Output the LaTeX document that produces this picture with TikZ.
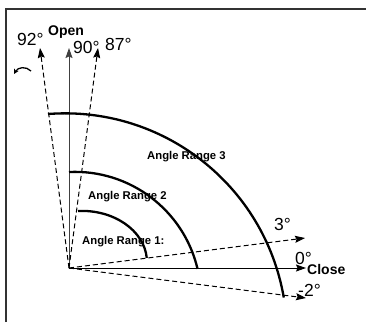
\documentclass[tikz,border=0pt]{standalone}
\usepackage{fontspec}
\setmainfont{Liberation Sans}
\usetikzlibrary{arrows.meta}
\begin{document}
\begin{tikzpicture}[x=1pt,y=-1pt,
  ray/.style={line width=1pt,-{Stealth[length=10pt,width=7pt,inset=1.5pt]}},
  dray/.style={ray,dash pattern=on 5pt off 3pt},
  rangearc/.style={line width=2.3pt},
  deg/.style={anchor=base west,inner sep=0pt,font=\fontsize{17.5}{20}\selectfont},
  lbl/.style={anchor=base west,inner sep=0pt,font=\bfseries\fontsize{14}{16}\selectfont},
  rng/.style={anchor=base west,inner sep=0pt,font=\bfseries\fontsize{11.3}{13}\selectfont}]
\useasboundingbox (0,0) rectangle (366,322);
% frame
\draw[line width=1.5pt,black!80] (6,322) -- (6,9) -- (366,9);
% origin and ray ends
\coordinate (O) at (69,268);
\coordinate (a92) at (40,48);
\coordinate (a90) at (69,48);
\coordinate (a87) at (98,48);
\coordinate (a3) at (305,238);
\coordinate (a0) at (306,268);
\coordinate (am2) at (306,298);
\draw[dray] (O) -- (a92);
\draw[ray,black!75] (O) -- (a90);
\draw[dray] (O) -- (a87);
\draw[dray] (O) -- (a3);
\draw[ray] (O) -- (a0);
\draw[dray] (O) -- (am2);
% range arcs
\draw[rangearc] (48,114) arc[start angle=-94.4, end angle=-9.8, radius=222];
\draw[rangearc] (69,172) arc[start angle=-92.7, end angle=-13.3, radius=126];
\draw[rangearc] (78,211) arc[start angle=-93.5, end angle=-4.5, x radius=65, y radius=51];
% curved arrow
\coordinate (cs) at (31,71);
\coordinate (ce) at (14,74);
\draw[line width=1.3pt,-{Stealth[length=5pt,width=5pt]}] (cs) .. controls (26,66) and (18,67) .. (ce);
% labels
\node[deg] (t92) at (17,45) {92°};
\node[lbl] (topen) at (48,35) {Open};
\node[deg] (t90) at (73,53) {90°};
\node[deg] (t87) at (105,50) {87°};
\node[rng] (r3) at (147,159) {Angle Range 3};
\node[rng] (r2) at (88,199) {Angle Range 2};
\node[rng] (r1) at (82,244) {Angle Range 1:};
\node[deg] (t3) at (274,230) {3°};
\node[deg] (t0) at (295,264) {0°};
\node[lbl] (tclose) at (307,274) {Close};
\node[deg] (tm2) at (298,296) {-2°};
\end{tikzpicture}
\end{document}
